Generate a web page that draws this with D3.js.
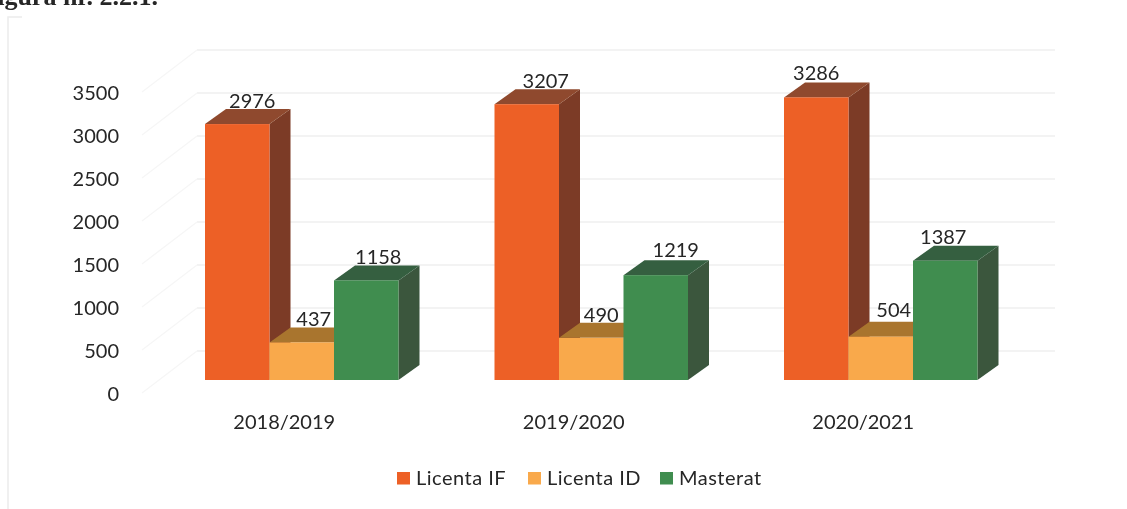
<!doctype html>
<html>
<head>
	<title>Figura 2.2.1</title>
	<script src="https://d3js.org/d3.v7.min.js"></script>
	<style>
	html, body { margin:0; padding:0; background:#fff; }
	svg { display:block; }
	text { font-family:Lato, "Open Sans", sans-serif; fill:#262626; }
	</style>
</head>
<body>
<svg id="chart" width="1127" height="509">
	<defs><filter id="scan" x="0" y="0" width="100%" height="100%"><feGaussianBlur stdDeviation="0.45"/></filter></defs>
</svg>

<script>

var categories = ['2018/2019', '2019/2020', '2020/2021'];
var seriesNames = ['Licenta IF', 'Licenta ID', 'Masterat'];
var licentaIF = [2976, 3207, 3286];
var licentaID = [437, 490, 504];
var masterat = [1158, 1219, 1387];
var tickValues = [0, 500, 1000, 1500, 2000, 2500, 3000, 3500];

var allSeries = [licentaIF, licentaID, masterat];

// layout of the fake 3d box
var depthX = 21, depthY = -15;           // bar depth
var wallX = -55, wallY = 42;             // side wall lines
var baseY = 380, backY = 351;

var faceColors = ['#ed6027', '#f9a94b', '#3f8d4f'];
var topColors = ['#8f4a2e', '#a9742f', '#355f40'];
var sideColors = ['#7b3b25', '#7b5a25', '#3a573e'];
var legendX = [397, 528, 660];
// label nudges, the labels do not sit centred over the bars in the picture
var labelDx = [[15, 12, 12], [19, 10, 20], [0, 13, -2]];
var labelDy = [[-16, -16, -16], [-16, -16, -18], [-17, -20, -17]];

var svg = d3.select('#chart');
var root = svg.append('g').attr('filter', 'url(#scan)');

var x = d3.scaleBand().domain(categories).range([60.5, 929]).paddingInner(0).paddingOuter(0);
var xSeries = d3.scaleBand().domain(d3.range(3)).range([61, 254.5]);
var h = d3.scaleLinear().domain([0, 3500]).range([0, 301]);

// scanned frame
root.append('path').attr('d', 'M8,509V17H22').attr('fill', 'none').attr('stroke', '#ececec').attr('stroke-width', 1.5);

// gridlines + side wall
var grid = root.append('g');
tickValues.forEach(function(t) {
	var y = backY - h(t);
	grid.append('line').attr('x1', 197).attr('x2', 1055).attr('y1', y).attr('y2', y)
		.attr('stroke', '#efefef').attr('stroke-width', 1.3);
	grid.append('line').attr('x1', 197).attr('x2', 197 + wallX).attr('y1', y).attr('y2', y + wallY)
		.attr('stroke', '#f6f6f6').attr('stroke-width', 1.3);
});

// y axis labels
var yAxis = d3.axisLeft(d3.scaleLinear().domain([0, 3500]).range([0, -301]))
	.tickValues(tickValues).tickSize(0).tickPadding(0).tickFormat(d3.format('d'));
var axisG = root.append('g').attr('transform', 'translate(119,394)').call(yAxis);
axisG.select('.domain').remove();
axisG.selectAll('text').style('font-size', '20px').style('font-family', 'Lato, sans-serif');

// bars
categories.forEach(function(cat, c) {
	var g = root.append('g').attr('transform', 'translate(' + x(cat) + ',0)');
	allSeries.forEach(function(values, s) {
		var x0 = xSeries(s) + 83.5;
		var w = xSeries.bandwidth();
		var top = baseY - h(values[c]);
		g.append('polygon').attr('fill', sideColors[s]).attr('points', [
			[x0 + w, top], [x0 + w + depthX, top + depthY], [x0 + w + depthX, baseY + depthY], [x0 + w, baseY]
		].join(' '));
		g.append('polygon').attr('fill', topColors[s]).attr('points', [
			[x0, top], [x0 + depthX, top + depthY], [x0 + w + depthX, top + depthY], [x0 + w, top]
		].join(' '));
		g.append('rect').attr('x', x0).attr('y', top).attr('width', w).attr('height', baseY - top)
			.attr('fill', faceColors[s]);
	});
	// data labels go on top of all the faces
	allSeries.forEach(function(values, s) {
		g.append('text')
			.attr('x', xSeries(s) + 83.5 + xSeries.bandwidth() / 2 + labelDx[c][s])
			.attr('y', baseY - h(values[c]) + labelDy[c][s])
			.attr('text-anchor', 'middle')
			.style('font-size', '20px')
			.text(values[c]);
	});
	root.append('text')
		.attr('x', x(cat) + x.bandwidth() / 2 + 79)
		.attr('y', 429)
		.attr('text-anchor', 'middle')
		.style('font-size', '20px')
		.text(cat);
});

// legend
seriesNames.forEach(function(name, s) {
	root.append('rect').attr('x', legendX[s]).attr('y', 472).attr('width', 13).attr('height', 12.5)
		.attr('fill', faceColors[s]);
	root.append('text').attr('x', legendX[s] + 19).attr('y', 485)
		.style('font-size', '20px')
		.style('letter-spacing', '0.5px')
		.text(name);
});

// caption cut off by the top edge of the scan
root.append('text').attr('x', 158).attr('y', 5).attr('text-anchor', 'end')
	.style('font-family', '"Liberation Serif", serif').style('font-size', '26px').style('font-weight', 'bold')
	.text('Figura nr. 2.2.1.');

</script>
</body>
</html>
